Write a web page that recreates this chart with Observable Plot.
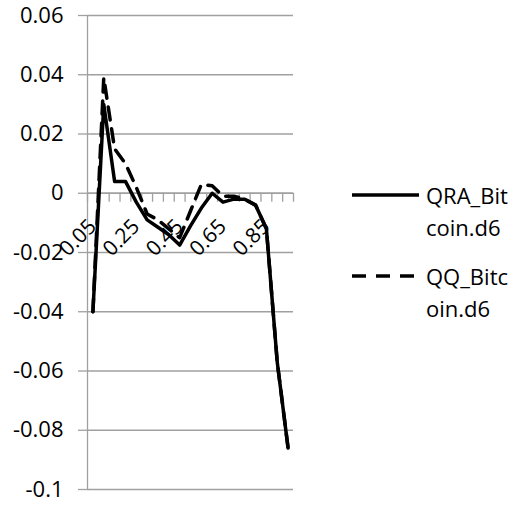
<!DOCTYPE html>
<html>
<head>
<meta charset="utf-8">
<script src="https://cdn.jsdelivr.net/npm/d3@7"></script>
<script src="https://cdn.jsdelivr.net/npm/@observablehq/plot@0.6"></script>
<style>
  html, body { margin: 0; padding: 0; background: #fff; }
  #wrap { position: relative; width: 524px; height: 506px; font-family: "Open Sans", sans-serif; }
  #legend { position: absolute; left: 0; top: 0; width: 524px; height: 506px; pointer-events: none; }
  .lg-text { position: absolute; font-size: 22px; line-height: 32px; color: #000; white-space: nowrap; }
</style>
</head>
<body>
<div id="wrap"></div>
<script>
// Categories (quantile levels)
const categories = [0.05, 0.1, 0.15, 0.2, 0.25, 0.3, 0.35, 0.4, 0.45, 0.5, 0.55, 0.6, 0.65, 0.7, 0.75, 0.8, 0.85, 0.9, 0.95];
// Series values
const qraBitcoin = [-0.040, 0.030, 0.004, 0.004, -0.003, -0.009, -0.0115, -0.014, -0.0175, -0.011, -0.005, 0.000, -0.003, -0.002, -0.002, -0.004, -0.012, -0.057, -0.086];
const qqBitcoin  = [-0.040, 0.039, 0.015, 0.010, 0.002, -0.007, -0.009, -0.012, -0.015, -0.006, 0.003, 0.0025, -0.001, -0.001, -0.002, -0.004, -0.012, -0.057, -0.086];
const seriesNames = ["QRA_Bitcoin.d6", "QQ_Bitcoin.d6"];
// Axis tick labels
const yTicks = [0.06, 0.04, 0.02, 0, -0.02, -0.04, -0.06, -0.08, -0.1];
const yTickLabels = ["0.06", "0.04", "0.02", "0", "-0.02", "-0.04", "-0.06", "-0.08", "-0.1"];
const xLabelCats = [0.05, 0.25, 0.45, 0.65, 0.85];
const xTickLabels = ["0.05", "0.25", "0.45", "0.65", "0.85"];

const rowsQRA = categories.map((c, i) => ({q: c, v: qraBitcoin[i], s: seriesNames[0]}));
const rowsQQ = categories.map((c, i) => ({q: c, v: qqBitcoin[i], s: seriesNames[1]}));

const half = (categories[1] - categories[0]) / 2;
const bounds = categories.map(c => c - half).concat([categories[categories.length - 1] + half]);
const xLabels = xLabelCats.map((c, i) => ({q: c, t: xTickLabels[i]}));

const grey = "#a0a0a0";
const font = "Open Sans, sans-serif";

const chart = Plot.plot({
  width: 524,
  height: 506,
  marginLeft: 87,
  marginRight: 231,
  marginTop: 15,
  marginBottom: 17,
  style: {fontFamily: font, background: "#fff", color: "#000"},
  x: {type: "linear", domain: [bounds[0], bounds[bounds.length - 1]], axis: null},
  y: {domain: [-0.1, 0.06], axis: null},
  marks: [
    Plot.ruleY(yTicks, {stroke: grey, strokeWidth: 1.3}),
    Plot.axisY({ticks: yTicks, tickFormat: (d) => yTickLabels[yTicks.indexOf(d)], tickSize: 9, tickPadding: 15, fontSize: 22, stroke: grey, strokeWidth: 1.3, label: null}),
    Plot.ruleX([bounds[0]], {stroke: grey, strokeWidth: 1.3}),
    Plot.ruleY([0], {stroke: grey, strokeWidth: 1.3}),
    Plot.ruleX(bounds, {x: d => d, y1: 0, y2: 0, insetBottom: -9, stroke: grey, strokeWidth: 1.3}),
    Plot.text(xLabels, {x: "q", y: () => 0, text: "t", rotate: -45, textAnchor: "end", lineAnchor: "top", dx: -6, dy: 24, fontSize: 21, fill: "#000"}),
    Plot.line(rowsQQ, {x: "q", y: "v", stroke: "#000", strokeWidth: 3.5, strokeDasharray: "13,9", strokeLinejoin: "round"}),
    Plot.line(rowsQRA, {x: "q", y: "v", stroke: "#000", strokeWidth: 3.5, strokeLinejoin: "round"})
  ]
});

const wrap = document.getElementById("wrap");
wrap.appendChild(chart);

// Legend overlay
const lg = document.createElement("div");
lg.id = "legend";
const legendItems = [
  {name: seriesNames[0], lines: ["QRA_Bit", "coin.d6"], dash: null, y: 195},
  {name: seriesNames[1], lines: ["QQ_Bitc", "oin.d6"], dash: "14,10", y: 276}
];
const ns = "http://www.w3.org/2000/svg";
const lsvg = document.createElementNS(ns, "svg");
lsvg.setAttribute("width", 524);
lsvg.setAttribute("height", 506);
lsvg.style.position = "absolute";
lsvg.style.left = "0"; lsvg.style.top = "0";
legendItems.forEach(it => {
  const l = document.createElementNS(ns, "line");
  l.setAttribute("x1", 352); l.setAttribute("x2", 419);
  l.setAttribute("y1", it.y); l.setAttribute("y2", it.y);
  l.setAttribute("stroke", "#000"); l.setAttribute("stroke-width", 3.5);
  if (it.dash) l.setAttribute("stroke-dasharray", it.dash);
  lsvg.appendChild(l);
  const t = document.createElement("div");
  t.className = "lg-text";
  t.style.left = "426px";
  t.style.top = (it.y - 16) + "px";
  t.innerHTML = it.lines.join("<br>");
  lg.appendChild(t);
});
lg.appendChild(lsvg);
wrap.appendChild(lg);
</script>
</body>
</html>
